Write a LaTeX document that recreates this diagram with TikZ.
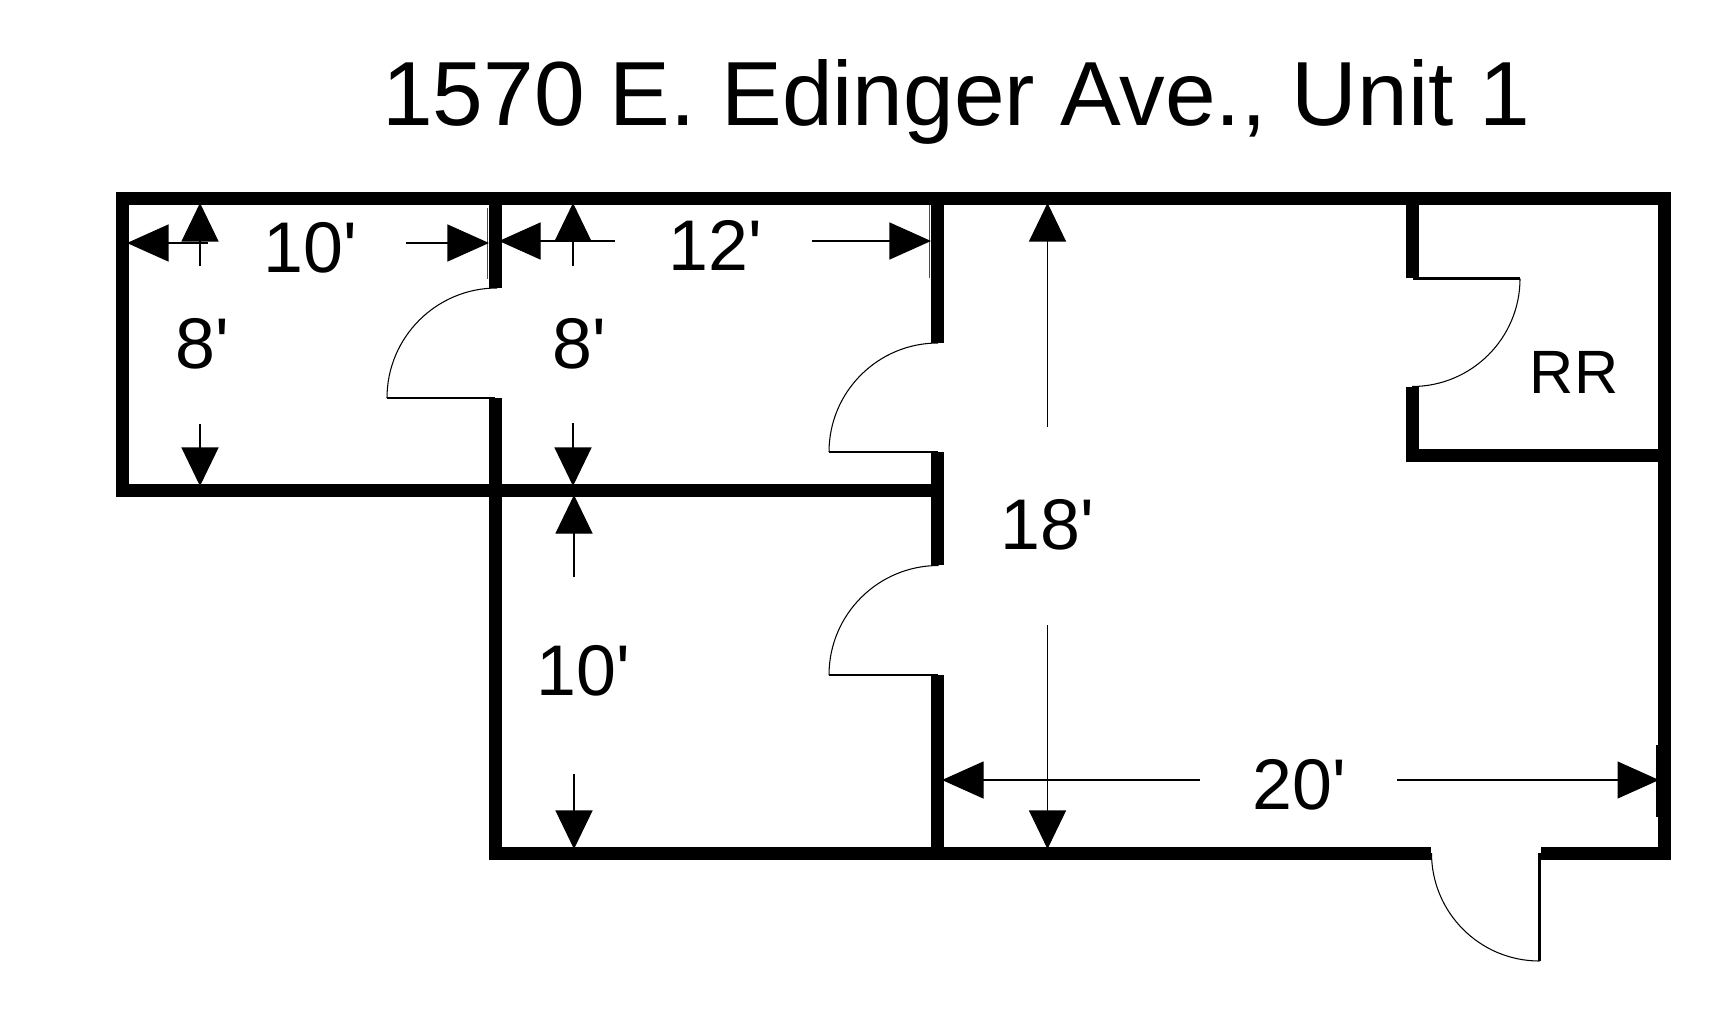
\documentclass[tikz,border=0pt]{standalone}
\usepackage{fontspec}
\newfontfamily\planfont{Liberation Sans}
\usetikzlibrary{arrows.meta}

\tikzset{
  wall/.style={line width=0.13cm, line join=miter},
  leaf/.style={line width=0.7pt},
  swing/.style={line width=0.3pt},
  tick/.style={line width=0.25pt, color=black!70},
  dimh/.style={line width=0.3pt, -{Triangle[length=0.415cm,width=0.37cm]}},
  dimv/.style={line width=0.3pt, -{Triangle[length=0.385cm,width=0.37cm]}},
  dimtext/.style={font=\planfont\fontsize{20.4}{24}\selectfont, anchor=base, inner sep=0pt},
  roomtext/.style={font=\planfont\fontsize{17.4}{20}\selectfont, anchor=base, inner sep=0pt},
  titletext/.style={font=\planfont\fontsize{25.9}{32}\selectfont, anchor=base, inner sep=0pt}
}

\begin{document}
\begin{tikzpicture}[x=0.01cm, y=-0.01cm]

 \useasboundingbox (0,0) rectangle (1716,1015);

 %%%%%%%%%% Corners of the walls %%%%%%%%%%

 \coordinate (tl) at (122.5,198.5);
 \coordinate (tr) at (1664.5,198.5);
 \coordinate (br) at (1664.5,853);
 \coordinate (bl) at (495,853);
 \coordinate (ml) at (122.5,490.5);
 \coordinate (mc) at (495,490.5);
 \coordinate (mr) at (937.5,490.5);
 \coordinate (entryA) at (1431,853);
 \coordinate (entryB) at (1541,853);

 %%%%%%%%%% Outer walls %%%%%%%%%%
 \draw [wall] (entryA) -- (bl) -- (mc) -- (ml) -- (tl) -- (tr) -- (br) -- (entryB) ;

 %%%%%%%%%% Inner walls %%%%%%%%%%
 \draw [wall] (495,198.5) -- (495,288) ;
 \draw [wall] (495,398) -- (mc) -- (mr) ;
 \draw [wall] (937.5,198.5) -- (937.5,343) ;
 \draw [wall] (937.5,452) -- (937.5,565) ;
 \draw [wall] (937.5,675) -- (937.5,853) ;
 \draw [wall] (1412.5,198.5) -- (1412.5,278) ;
 \draw [wall] (1412.5,387) -- (1412.5,455.5) -- (1664.5,455.5) ;

 %%%%%%%%%% Doors %%%%%%%%%%
 \draw [leaf] (495,398) -- (387,398) ;
 \draw [swing] (387,398) arc [start angle=180, end angle=270, radius=110] ;
 \draw [leaf] (937.5,452) -- (829,452) ;
 \draw [swing] (829,452) arc [start angle=180, end angle=270, radius=109] ;
 \draw [leaf] (937.5,675) -- (829,675) ;
 \draw [swing] (829,675) arc [start angle=180, end angle=270, radius=109.5] ;
 \draw [leaf] (1412.5,278.5) -- (1520,278.5) ;
 \draw [swing] (1520,278.5) arc [start angle=0, end angle=90, radius=108] ;
 \draw [leaf] (1539.5,853) -- (1539.5,961) ;
 \draw [swing] (1539.5,961) arc [start angle=90, end angle=180, radius=108] ;

 %%%%%%%%%% Small ticks at the walls %%%%%%%%%%
 \draw [tick] (487,208) -- (487,279) ;
 \draw [tick] (929,205) -- (929,278) ;
 \draw [line width=0.7pt] (1657.5,745) -- (1657.5,817) ;

 %%%%%%%%%% Width arrows %%%%%%%%%%
 \draw [dimh] (208,243) -- (127,243) ;
 \draw [dimh] (406,243) -- (489,243) ;
 \draw [dimh] (615,241) -- (499,241) ;
 \draw [dimh] (812,241) -- (931,241) ;
 \draw [dimh] (1200,780) -- (942,780) ;
 \draw [dimh] (1397,780) -- (1659,780) ;

 %%%%%%%%%% Height arrows %%%%%%%%%%
 \draw [dimv] (200,266) -- (200,203) ;
 \draw [dimv] (200,424) -- (200,486) ;
 \draw [dimv] (573,266) -- (573,203) ;
 \draw [dimv] (573,423) -- (573,486) ;
 \draw [dimv] (574,577) -- (574,495) ;
 \draw [dimv] (574,774) -- (574,849) ;
 \draw [dimv] (1047.5,427) -- (1047.5,203) ;
 \draw [dimv] (1047.5,625) -- (1047.5,849) ;

 %%%%%%%%%% Labels %%%%%%%%%%
 \node [titletext] (title) at (956,125) {1570 E. Edinger Ave., Unit 1};
 \node [dimtext] (wA) at (310,272) {10'};
 \node [dimtext] (wB) at (715,270) {12'};
 \node [dimtext] (hA) at (202,368) {8'};
 \node [dimtext] (hB) at (579,368) {8'};
 \node [dimtext] (hC) at (583,695) {10'};
 \node [dimtext] (hD) at (1047,549) {18'};
 \node [dimtext] (wC) at (1299,809) {20'};
 \node [roomtext] (rr) at (1574,393) {RR};

\end{tikzpicture}
\end{document}
